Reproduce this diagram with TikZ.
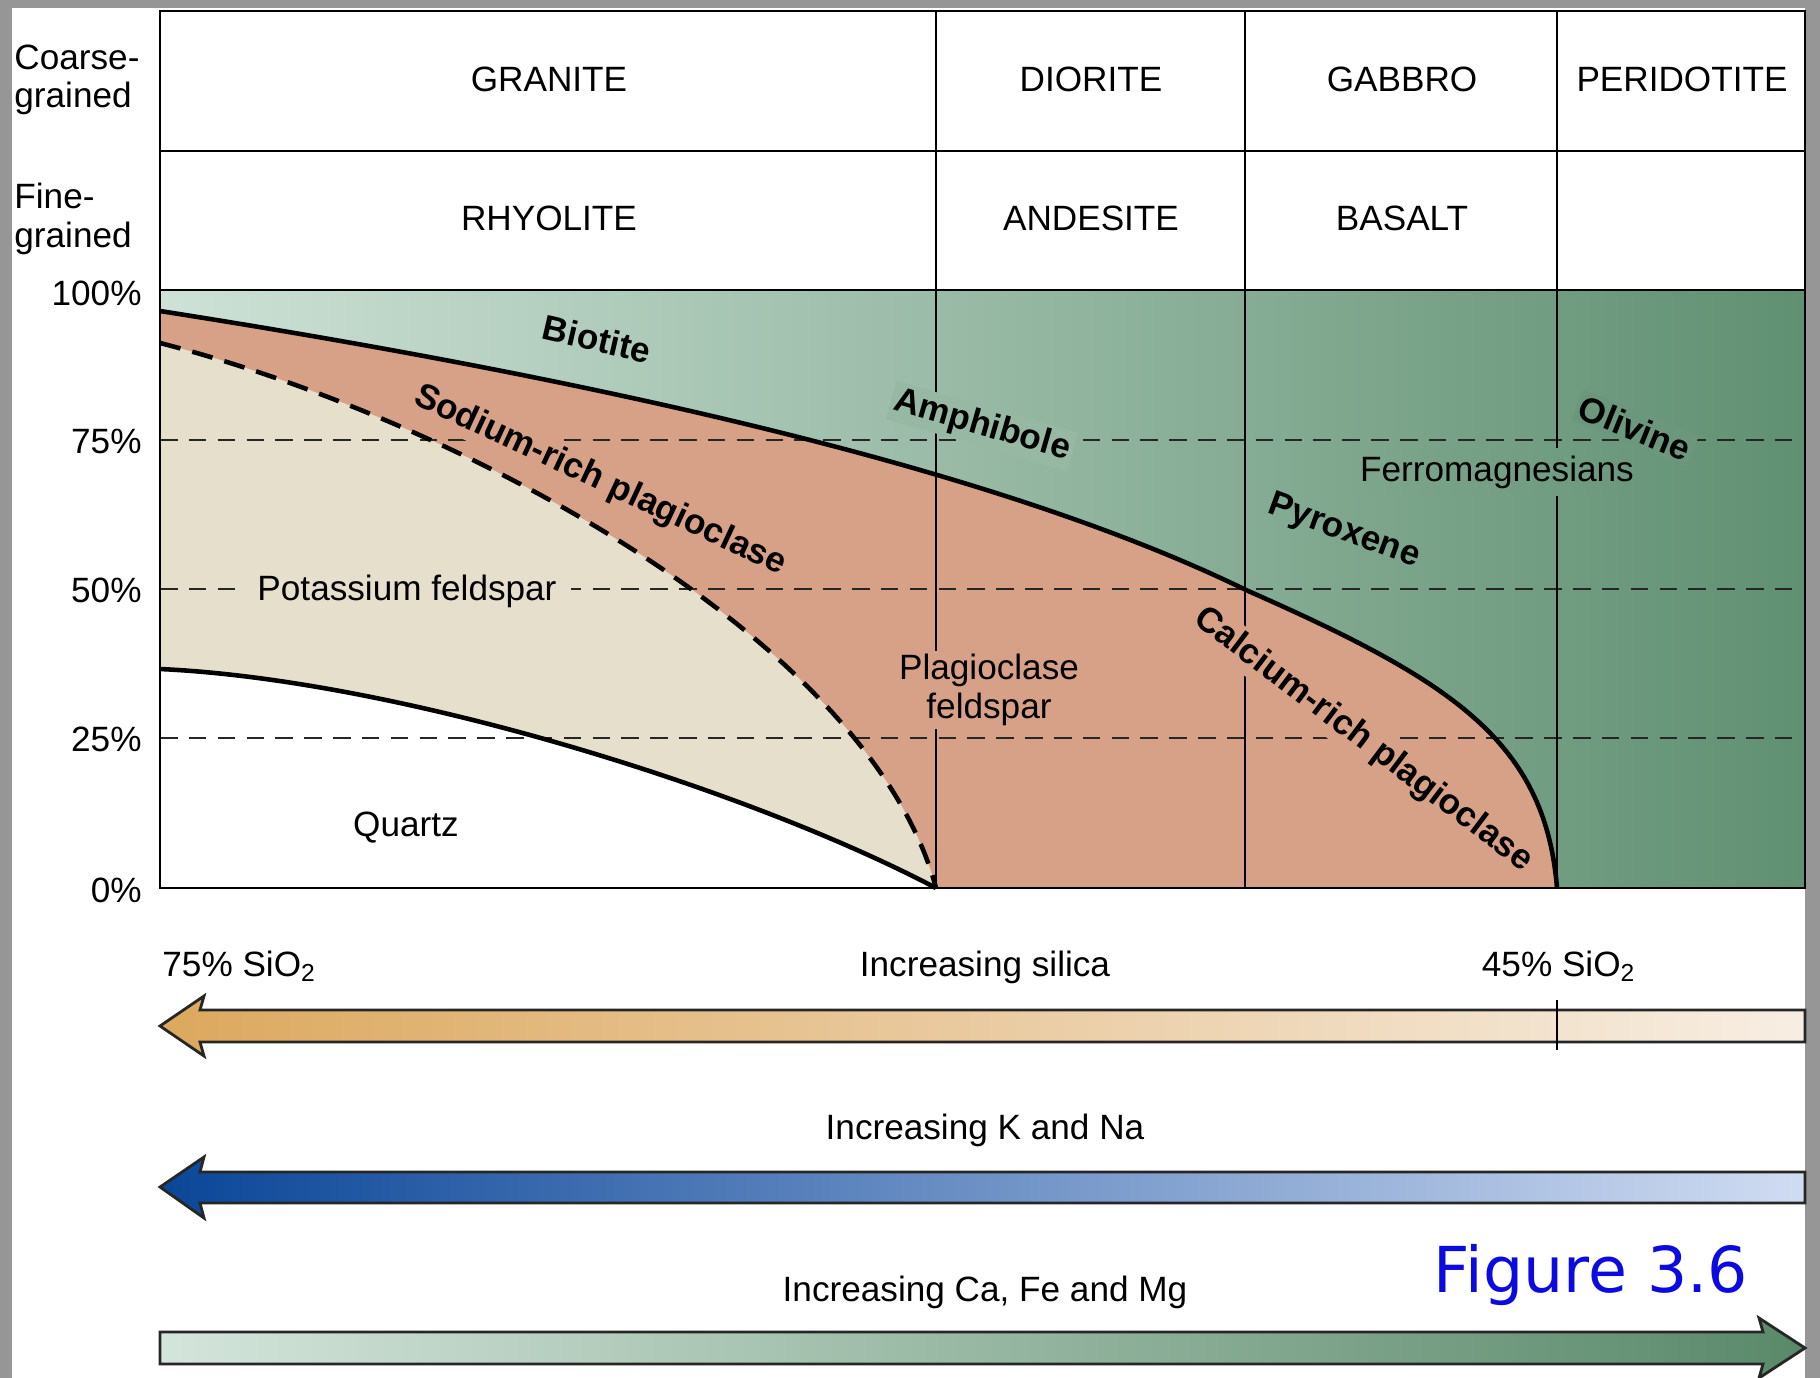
\documentclass[tikz,border=0pt]{standalone}
\usepackage{fontspec}
\setmainfont{Liberation Sans}
\newfontfamily\figfont{DejaVu Sans}
\definecolor{greenL}{RGB}{206,226,215}
\definecolor{greenR}{RGB}{96,144,114}
\definecolor{plag}{RGB}{215,161,135}
\definecolor{kfs}{RGB}{230,223,203}
\definecolor{silL}{RGB}{220,168,95}
\definecolor{silR}{RGB}{247,238,227}
\definecolor{knaL}{RGB}{10,70,152}
\definecolor{knaR}{RGB}{208,220,242}
\definecolor{cfmL}{RGB}{212,229,219}
\definecolor{cfmR}{RGB}{90,137,106}
\definecolor{figblue}{RGB}{10,10,225}
\definecolor{slide}{RGB}{150,150,150}

\begin{document}
\begin{tikzpicture}[x=.01cm,y=-.01cm,
  twoline/.style={align=left,font=\fontsize{10}{11}\selectfont},
  mineral/.style={font=\bfseries,inner sep=1pt},
  pct/.style={anchor=east},
  pctline/.style={dash pattern=on 5pt off 3.2pt,line width=.8pt,black!85},
  bound/.style={line width=1.3pt},
  bigarrow/.style={draw=black!85,line width=.8pt}]
\fill[slide] (0,0) rectangle (1820,1378);
\fill[white] (12,8) rectangle (1805,1378);
\useasboundingbox (0,0) rectangle (1820,1378);

% fields
\shade[left color=greenL,right color=greenR] (160,290) rectangle (1805,888);
\fill[plag] (160,311) .. controls (600,380) and (1000,470) .. (1246,590)
  .. controls (1450,680) and (1545,740) .. (1557,888) -- (160,888) -- cycle;
\fill[kfs] (160,343) .. controls (460,420) and (870,640) .. (936,888) -- (160,888) -- cycle;
\fill[white] (160,669) .. controls (400,680) and (750,790) .. (936,888) -- (160,888) -- cycle;

\foreach \y in {440,589,738}
  \draw[pctline] (160,\y) -- (1805,\y);

% table
\foreach \x in {936,1245,1557}
  \draw[line width=.6pt] (\x,11) -- (\x,888);
\draw[line width=.7pt] (160,11) rectangle (1805,888);
\draw[line width=.7pt] (160,151) -- (1805,151);
\draw[line width=.7pt] (160,290) -- (1805,290);

\draw[bound] (160,311) .. controls (600,380) and (1000,470) .. (1246,590)
  .. controls (1450,680) and (1545,740) .. (1557,888);
\draw[bound,dash pattern=on 6pt off 3.5pt] (160,343) .. controls (460,420) and (870,640) .. (936,888);
\draw[bound] (160,669) .. controls (400,680) and (750,790) .. (936,888);

\draw (2,80) node[twoline,anchor=west] (coarse) {Coarse-\\grained};
\draw (2,219) node[twoline,anchor=west] (fine) {Fine-\\grained};
\draw (549,79) node (granite) {GRANITE};
\draw (1091,79) node (diorite) {DIORITE};
\draw (1402,79) node (gabbro) {GABBRO};
\draw (1682,79) node (peridotite) {PERIDOTITE};
\draw (549,218) node (rhyolite) {RHYOLITE};
\draw (1091,218) node (andesite) {ANDESITE};
\draw (1402,218) node (basalt) {BASALT};

\draw (154,293) node[pct] (p100) {100\%};
\draw (154,441) node[pct] (p75) {75\%};
\draw (154,590) node[pct] (p50) {50\%};
\draw (154,739) node[pct] (p25) {25\%};
\draw (154,890) node[pct] (p0) {0\%};

\draw (597,339) node[mineral,rotate=-13] (biotite) {Biotite};
\draw (600,481) node[mineral,rotate=-25,fill=plag] (sodium) {Sodium-rich plagioclase};
\draw (982,426) node[mineral,rotate=-16,fill=greenR!50!greenL] (amphibole) {Amphibole};
\draw (1635,428) node[mineral,rotate=-22,fill=greenR!90!greenL] (olivine) {Olivine};
\draw (1344,532) node[mineral,rotate=-20] (pyroxene) {Pyroxene};
\draw (1363,740) node[mineral,rotate=-37,fill=plag] (calcium) {Calcium-rich plagioclase};

\draw (1497,481) node[anchor=base,inner sep=2pt,left color=greenR!73!greenL,right color=greenR!90!greenL] (ferro) {Ferromagnesians};
\draw (407,600) node[anchor=base,fill=kfs,inner xsep=4pt] (kfeld) {Potassium feldspar};
\draw (989,690) node[align=center,fill=plag,inner sep=1pt,font=\fontsize{10}{11}\selectfont] (plagfeld) {Plagioclase\\feldspar};
\draw (406,836) node[anchor=base] (quartz) {Quartz};

% arrows
\shadedraw[bigarrow,left color=silL,right color=silR] (160,1026) -- (204,996) -- (200,1010) -- (1805,1010) -- (1805,1042) -- (200,1042) -- (204,1056) -- cycle;
\draw[line width=.6pt] (1557,1000) -- (1557,1050);
\shadedraw[bigarrow,left color=knaL,right color=knaR] (160,1187) -- (204,1157) -- (200,1172) -- (1805,1172) -- (1805,1203) -- (200,1203) -- (204,1218) -- cycle;
\shadedraw[bigarrow,left color=cfmL,right color=cfmR] (160,1332) -- (1763,1332) -- (1759,1318) -- (1805,1348) -- (1759,1378) -- (1763,1364) -- (160,1364) -- cycle;

\draw (150,976) node[anchor=base west] (si75) {75\% SiO\textsubscript{2}};
\draw (985,976) node[anchor=base] (silica) {Increasing silica};
\draw (1559,976) node[anchor=base] (si45) {45\% SiO\textsubscript{2}};
\draw (985,1139) node[anchor=base] (kna) {Increasing K and Na};
\draw (985,1301) node[anchor=base] (cafemg) {Increasing Ca, Fe and Mg};
\draw (1591,1292) node[anchor=base,text=figblue,font=\figfont\fontsize{18}{20}\selectfont] (fig) {Figure 3.6};
\end{tikzpicture}
\end{document}
